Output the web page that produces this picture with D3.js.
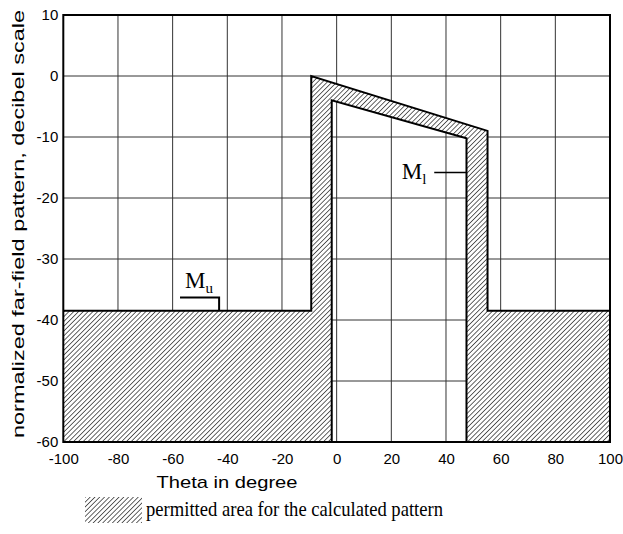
<!DOCTYPE html>
<html>
<head>
<meta charset="utf-8">
<script src="https://cdn.jsdelivr.net/npm/d3@7"></script>
<style>
  html, body { margin: 0; padding: 0; background: #fff; }
  svg { display: block; }
</style>
</head>
<body>
<div id="chart"></div>
<script>
// ---- data ----
const xTicks = [-100, -80, -60, -40, -20, 0, 20, 40, 60, 80, 100];
const yTicks = [10, 0, -10, -20, -30, -40, -50, -60];
// upper mask M_u (theta, dB)
const upperTheta = [-100, -9.3, -9.3, 55.2, 55.2, 100];
const upperDb    = [-38.5, -38.5, 0, -9.0, -38.5, -38.5];
// lower mask M_l (theta, dB)
const lowerTheta = [-100, -1.8, -1.8, 47.5, 47.5, 100];
const lowerDb    = [-60, -60, -4.0, -10.2, -60, -60];
// annotation anchors (theta, dB)
const muLabel = {text: "M", sub: "u", theta: -55.5, db: -34.7};
const muLeader = {theta: [-57.3, -43.0, -43.0], db: [-36.3, -36.3, -38.5]};
const mlLabel = {text: "M", sub: "l", theta: 23.8, db: -16.9};
const mlLeader = {theta: [35.7, 47.5], db: [-15.8, -15.8]};
const xTitle = "Theta in degree";
const yTitle = "normalized far-field pattern, decibel scale";
const legendText = "permitted area for the calculated pattern";

// ---- layout ----
const W = 623, H = 534;
const pLeft = 63.3, pRight = 610, pTop = 15, pBottom = 442;
const x = d3.scaleLinear().domain([-100, 100]).range([pLeft, pRight]);
const y = d3.scaleLinear().domain([-60, 10]).range([pBottom, pTop]);

const svg = d3.select("#chart").append("svg").attr("width", W).attr("height", H);

const defs = svg.append("defs");
const P = 3.4;
const pat = defs.append("pattern").attr("id", "hatch")
  .attr("patternUnits", "userSpaceOnUse").attr("width", P).attr("height", P)
  .attr("patternTransform", "rotate(45)");
pat.append("rect").attr("width", P).attr("height", P).attr("fill", "#fff");
pat.append("line").attr("x1", 0).attr("y1", 0).attr("x2", 0).attr("y2", P)
  .attr("stroke", "#222").attr("stroke-width", 1.4);

// grid
const g = svg.append("g");
g.selectAll("line.vg").data(xTicks.slice(1, -1)).join("line")
  .attr("x1", d => x(d)).attr("x2", d => x(d)).attr("y1", pTop).attr("y2", pBottom)
  .attr("stroke", "#333").attr("stroke-width", 1);
g.selectAll("line.hg").data(yTicks.slice(1, -1)).join("line")
  .attr("x1", pLeft).attr("x2", pRight).attr("y1", d => y(d)).attr("y2", d => y(d))
  .attr("stroke", "#333").attr("stroke-width", 1);

// hatched area between masks
const upperPts = upperTheta.map((t, i) => [x(t), y(upperDb[i])]);
const lowerPts = lowerTheta.map((t, i) => [x(t), y(lowerDb[i])]);
const areaPts = upperPts.concat(lowerPts.slice().reverse());
const line = d3.line();
svg.append("path").attr("d", line(areaPts) + "Z")
  .attr("fill", "url(#hatch)").attr("stroke", "none");
svg.append("path").attr("d", line(upperPts)).attr("fill", "none")
  .attr("stroke", "#000").attr("stroke-width", 2).attr("stroke-linejoin", "miter");
svg.append("path").attr("d", line(lowerPts)).attr("fill", "none")
  .attr("stroke", "#000").attr("stroke-width", 2).attr("stroke-linejoin", "miter");

// frame
svg.append("rect").attr("x", pLeft).attr("y", pTop).attr("width", pRight - pLeft).attr("height", pBottom - pTop)
  .attr("fill", "none").attr("stroke", "#000").attr("stroke-width", 2);

// axes
const fontSans = "'Liberation Sans', Arial, sans-serif";
const fontSerif = "'Liberation Serif', 'Times New Roman', serif";
const fmt = d => String(d);
const ax = svg.append("g").attr("transform", `translate(0,${pBottom})`)
  .call(d3.axisBottom(x).tickValues(xTicks).tickFormat(fmt).tickSize(0).tickPadding(11));
const ay = svg.append("g").attr("transform", `translate(${pLeft},0)`)
  .call(d3.axisLeft(y).tickValues(yTicks).tickFormat(fmt).tickSize(0).tickPadding(5));
[ax, ay].forEach(a => {
  a.select(".domain").remove();
  a.selectAll("text").attr("font-family", fontSans).attr("font-size", 15).attr("fill", "#000");
});

// titles
svg.append("text").attr("x", 227).attr("y", 488).attr("text-anchor", "middle")
  .attr("font-family", fontSans).attr("font-size", 17).attr("textLength", 141)
  .attr("lengthAdjust", "spacingAndGlyphs").text(xTitle);
svg.append("text").attr("transform", "translate(24,224) rotate(-90)").attr("text-anchor", "middle")
  .attr("font-family", fontSans).attr("font-size", 17).attr("textLength", 428)
  .attr("lengthAdjust", "spacingAndGlyphs").text(yTitle);

// annotations
function mlabel(lbl) {
  const t = svg.append("text").attr("x", x(lbl.theta)).attr("y", y(lbl.db))
    .attr("font-family", fontSerif).attr("font-size", 23).attr("fill", "#000");
  t.append("tspan").text(lbl.text);
  t.append("tspan").attr("font-size", 15).attr("dy", 5).text(lbl.sub);
}
mlabel(muLabel);
mlabel(mlLabel);
svg.append("path").attr("d", line(muLeader.theta.map((t, i) => [x(t), y(muLeader.db[i])])))
  .attr("fill", "none").attr("stroke", "#000").attr("stroke-width", 2);
svg.append("path").attr("d", line(mlLeader.theta.map((t, i) => [x(t), y(mlLeader.db[i])])))
  .attr("fill", "none").attr("stroke", "#000").attr("stroke-width", 1.5);

// legend
svg.append("rect").attr("x", 85).attr("y", 497).attr("width", 57).attr("height", 26)
  .attr("fill", "url(#hatch)");
svg.append("text").attr("x", 146).attr("y", 516)
  .attr("font-family", fontSerif).attr("font-size", 22).attr("textLength", 297)
  .attr("lengthAdjust", "spacingAndGlyphs").text(legendText);
</script>
</body>
</html>
